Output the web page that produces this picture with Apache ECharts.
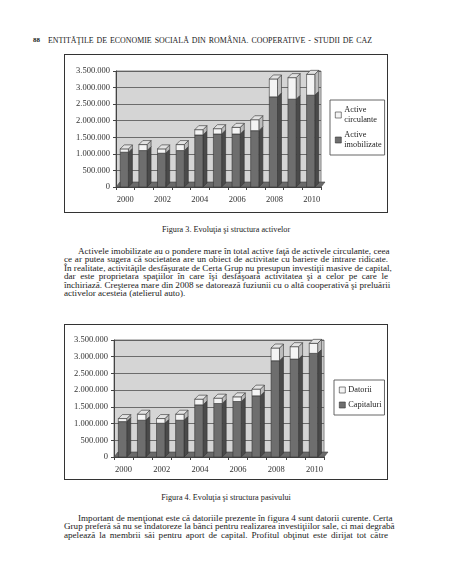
<!DOCTYPE html>
<html>
<head>
<meta charset="utf-8">
<script src="https://cdn.jsdelivr.net/npm/echarts@6/dist/echarts.min.js"></script>
<style>
  body { margin: 0; background: #fff; }
  #page { position: relative; width: 452px; height: 584px; font-family: "Liberation Serif", "DejaVu Serif", serif; color: #1a1a1a; }
  .ln { position: absolute; left: 64px; width: 324px; font-size: 9.1px; white-space: nowrap; text-align: justify; text-align-last: justify; }
  .last { text-align-last: left; }
  .cap { position: absolute; left: 64px; width: 324px; text-align: center; font-size: 8.2px; }
  .frame { position: absolute; left: 64px; width: 324px; border: 1.3px solid #333; box-sizing: border-box; }
</style>
</head>
<body>
<div id="page">
  <div style="position:absolute;left:33px;top:36px;font-size:7px;font-weight:bold;">88</div>
  <div style="position:absolute;left:48px;top:36px;width:324px;font-size:7.9px;white-space:nowrap;text-align:justify;text-align-last:justify;">ENTITĂŢILE DE ECONOMIE SOCIALĂ DIN ROMÂNIA. COOPERATIVE - STUDII DE CAZ</div>

  <div id="section_one" class="frame" style="top:54px;height:159px;"></div>
  <div class="cap" style="top:225px;">Figura 3. Evoluţia şi structura activelor</div>

  <div class="ln" style="top:245.5px;padding-left:14px;width:310px;">Activele imobilizate au o pondere mare în total active faţă de activele circulante, ceea</div>
  <div class="ln" style="top:254px;">ce ar putea sugera că societatea are un obiect de activitate cu bariere de intrare ridicate.</div>
  <div class="ln" style="top:262.5px;">În realitate, activităţile desfăşurate de Certa Grup nu presupun investiţii masive de capital,</div>
  <div class="ln" style="top:271px;">dar este proprietara spaţiilor în care îşi desfăşoară activitatea şi a celor pe care le</div>
  <div class="ln" style="top:279.5px;">închiriază. Creşterea mare din 2008 se datorează fuziunii cu o altă cooperativă şi preluării</div>
  <div class="ln last" style="top:288px;">activelor acesteia (atelierul auto).</div>

  <div id="section_two" class="frame" style="top:324px;height:156px;"></div>
  <div class="cap" style="top:493px;">Figura 4. Evoluţia şi structura pasivului</div>

  <div class="ln" style="top:512.5px;padding-left:14px;width:310px;">Important de menţionat este că datoriile prezente în figura 4 sunt datorii curente. Certa</div>
  <div class="ln" style="top:521px;">Grup preferă să nu se îndatoreze la bănci pentru realizarea investiţiilor sale, ci mai degrabă</div>
  <div class="ln" style="top:529.5px;">apelează la membrii săi pentru aport de capital. Profitul obţinut este dirijat tot către</div>
</div>
<script>
// ani
var years = ['2000','2001','2002','2003','2004','2005','2006','2007','2008','2009','2010'];
// Figura 3 - active (lei)
var activeImobilizate = [1050000,1100000,1020000,1100000,1570000,1600000,1600000,1700000,2720000,2650000,2770000];
var activeCirculante  = [100000,180000,130000,180000,160000,160000,200000,330000,540000,650000,630000];
// Figura 4 - pasive (lei)
var capitaluri = [1060000,1100000,1010000,1100000,1560000,1600000,1660000,1830000,2880000,2930000,3100000];
var datorii    = [90000,180000,140000,180000,170000,160000,140000,200000,380000,370000,300000];
// axa y
var yTicks = [0,500000,1000000,1500000,2000000,2500000,3000000,3500000];

var serif = 'Liberation Serif';
var D = 4; // adancime 3d

function fmt(v) {
    return String(v).replace(/\B(?=(\d{3})+(?!\d))/g, '.');
}

function bar3d(front, side, top, withTop) {
    return function (params, api) {
        var i = api.value(0), lo = api.value(1), hi = api.value(2);
        var p0 = api.coord([i, lo]), p1 = api.coord([i, hi]);
        var w = api.size([1, 0])[0] * 0.44;
        var x = p0[0] - w / 2 - 1;
        var kids = [
            { type: 'polygon', shape: { points: [[x + w, p1[1]], [x + w + D, p1[1] - D], [x + w + D, p0[1] - D], [x + w, p0[1]]] },
              style: { fill: side, stroke: '#333', lineWidth: 0.6 } },
            { type: 'rect', shape: { x: x, y: p1[1], width: w, height: p0[1] - p1[1] },
              style: { fill: front, stroke: '#333', lineWidth: 0.6 } }
        ];
        if (withTop) {
            kids.push({ type: 'polygon', shape: { points: [[x, p1[1]], [x + D, p1[1] - D], [x + w + D, p1[1] - D], [x + w, p1[1]]] },
                style: { fill: top, stroke: '#333', lineWidth: 0.6 } });
        }
        return { type: 'group', children: kids };
    };
}

function floor(params, api) {
    var cs = params.coordSys;
    var b = cs.y + cs.height;
    return { type: 'polygon', shape: { points: [[cs.x, b], [cs.x + D, b - D - 1], [cs.x + cs.width + D, b - D - 1], [cs.x + cs.width, b]] },
        style: { fill: '#6a6a6a', stroke: '#444', lineWidth: 0.6 } };
}

function makeOption(lowName, low, highName, high, grid, legendPos) {
    var lowData = [], highData = [];
    for (var i = 0; i < years.length; i++) {
        lowData.push([i, 0, low[i]]);
        highData.push([i, low[i], low[i] + high[i]]);
    }
    return {
        animation: false,
        grid: Object.assign({ show: true, backgroundColor: '#d5d5d5', borderColor: '#666', borderWidth: 0.8 }, grid),
        legend: Object.assign({
            orient: 'vertical',
            data: [highName, lowName],
            icon: 'rect', itemWidth: 6, itemHeight: 6, itemGap: 5,
            borderColor: '#555', borderWidth: 0.9, padding: [5, 3, 5, 5],
            itemStyle: { borderColor: '#333', borderWidth: 0.6 },
            textStyle: { fontFamily: serif, fontSize: 8.3, color: '#222', lineHeight: 10, padding: [0, 0, 0, -2] }
        }, legendPos),
        xAxis: {
            type: 'category', data: years,
            axisLine: { lineStyle: { color: '#444' } },
            axisTick: { show: true, interval: 0, length: 3, lineStyle: { color: '#444' } },
            axisLabel: { interval: 1, margin: 8, fontFamily: serif, fontSize: 8.5, color: '#333' }
        },
        yAxis: {
            type: 'value', min: yTicks[0], max: yTicks[yTicks.length - 1], interval: yTicks[1] - yTicks[0],
            axisLine: { show: true, lineStyle: { color: '#444' } },
            axisTick: { show: true, length: 3, lineStyle: { color: '#444' } },
            axisLabel: { formatter: fmt, margin: 6, fontFamily: serif, fontSize: 8.5, color: '#333' },
            splitLine: { lineStyle: { color: '#505050', width: 0.8 } }
        },
        series: [
            { type: 'custom', name: 'floor', silent: true, data: [[0, 0, 0]], renderItem: floor, encode: { x: 0, y: 1 } },
            { type: 'custom', name: lowName, data: lowData, itemStyle: { color: '#6e6e6e' },
              encode: { x: 0, y: [1, 2] }, renderItem: bar3d('#6e6e6e', '#4a4a4a', '#8a8a8a', false) },
            { type: 'custom', name: highName, data: highData, itemStyle: { color: '#f4f4f4' },
              encode: { x: 0, y: [1, 2] }, renderItem: bar3d('#f4f4f4', '#bdbdbd', '#e2e2e2', true) }
        ]
    };
}

var section_one = echarts.init(document.getElementById('section_one'));
section_one.setOption(makeOption('Active\nimobilizate', activeImobilizate, 'Active\ncirculante', activeCirculante,
    { left: 51, right: 66, top: 16, bottom: 25 },
    { left: 265, top: 45 }));

var section_two = echarts.init(document.getElementById('section_two'));
section_two.setOption(makeOption('Capitaluri', capitaluri, 'Datorii', datorii,
    { left: 49, right: 63, top: 15, bottom: 22 },
    { left: 269, top: 55 }));
</script>
</body>
</html>
